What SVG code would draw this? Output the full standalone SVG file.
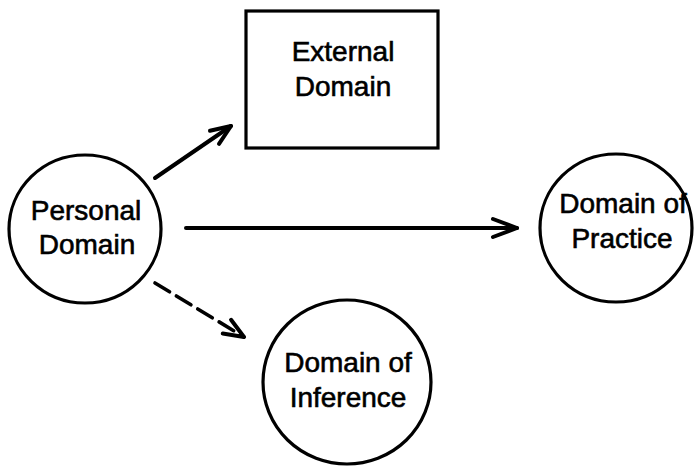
<svg xmlns="http://www.w3.org/2000/svg" width="694" height="466" viewBox="0 0 694 466">
  <style>
    .shape { fill: none; stroke: #000; stroke-width: 3.2; }
    .label { font-family: "Liberation Sans", Arial, sans-serif; font-size: 28px; fill: #000; stroke: #000; stroke-width: 0.6; text-anchor: middle; }
    .link { fill: none; stroke: #000; stroke-width: 4; stroke-linecap: round; }
    .dashed { stroke-dasharray: 17 8; stroke-width: 3.6; }
  </style>
  <defs>
    <!-- open V arrowheads, tip at the end of the line -->
    <marker id="head" markerUnits="userSpaceOnUse" markerWidth="30" markerHeight="24" viewBox="-26 -12 30 24" refX="0" refY="0" orient="auto" overflow="visible">
      <path d="M-24,-9 L0,0 L-24,9" fill="none" stroke="#000" stroke-width="4" stroke-linecap="round" stroke-linejoin="round"/>
    </marker>
    <marker id="head-small" markerUnits="userSpaceOnUse" markerWidth="30" markerHeight="24" viewBox="-26 -12 30 24" refX="0" refY="0" orient="auto" overflow="visible">
      <path d="M-20,-8 L0,0 L-20,8" fill="none" stroke="#000" stroke-width="4" stroke-linecap="round" stroke-linejoin="round"/>
    </marker>
  </defs>

  <g id="connectors">
    <line class="link" x1="155" y1="178" x2="231" y2="126" marker-end="url(#head-small)"/>
    <line class="link" x1="186" y1="228" x2="517" y2="228" marker-end="url(#head)"/>
    <line class="link dashed" x1="155" y1="283" x2="244" y2="337" marker-end="url(#head-small)"/>
  </g>

  <g id="personal-domain">
    <ellipse class="shape" cx="85" cy="229" rx="76" ry="74"/>
    <text class="label" x="86" y="220">Personal</text>
    <text class="label" x="87" y="254">Domain</text>
  </g>

  <g id="external-domain">
    <rect class="shape" x="246" y="11" width="192" height="137"/>
    <text class="label" x="343" y="61">External</text>
    <text class="label" x="343" y="96">Domain</text>
  </g>

  <g id="domain-of-practice">
    <ellipse class="shape" cx="616" cy="228" rx="76" ry="74"/>
    <text class="label" x="623" y="213">Domain of</text>
    <text class="label" x="622" y="248">Practice</text>
  </g>

  <g id="domain-of-inference">
    <ellipse class="shape" cx="347" cy="382" rx="84" ry="82"/>
    <text class="label" x="348" y="372">Domain of</text>
    <text class="label" x="348" y="407">Inference</text>
  </g>
</svg>
